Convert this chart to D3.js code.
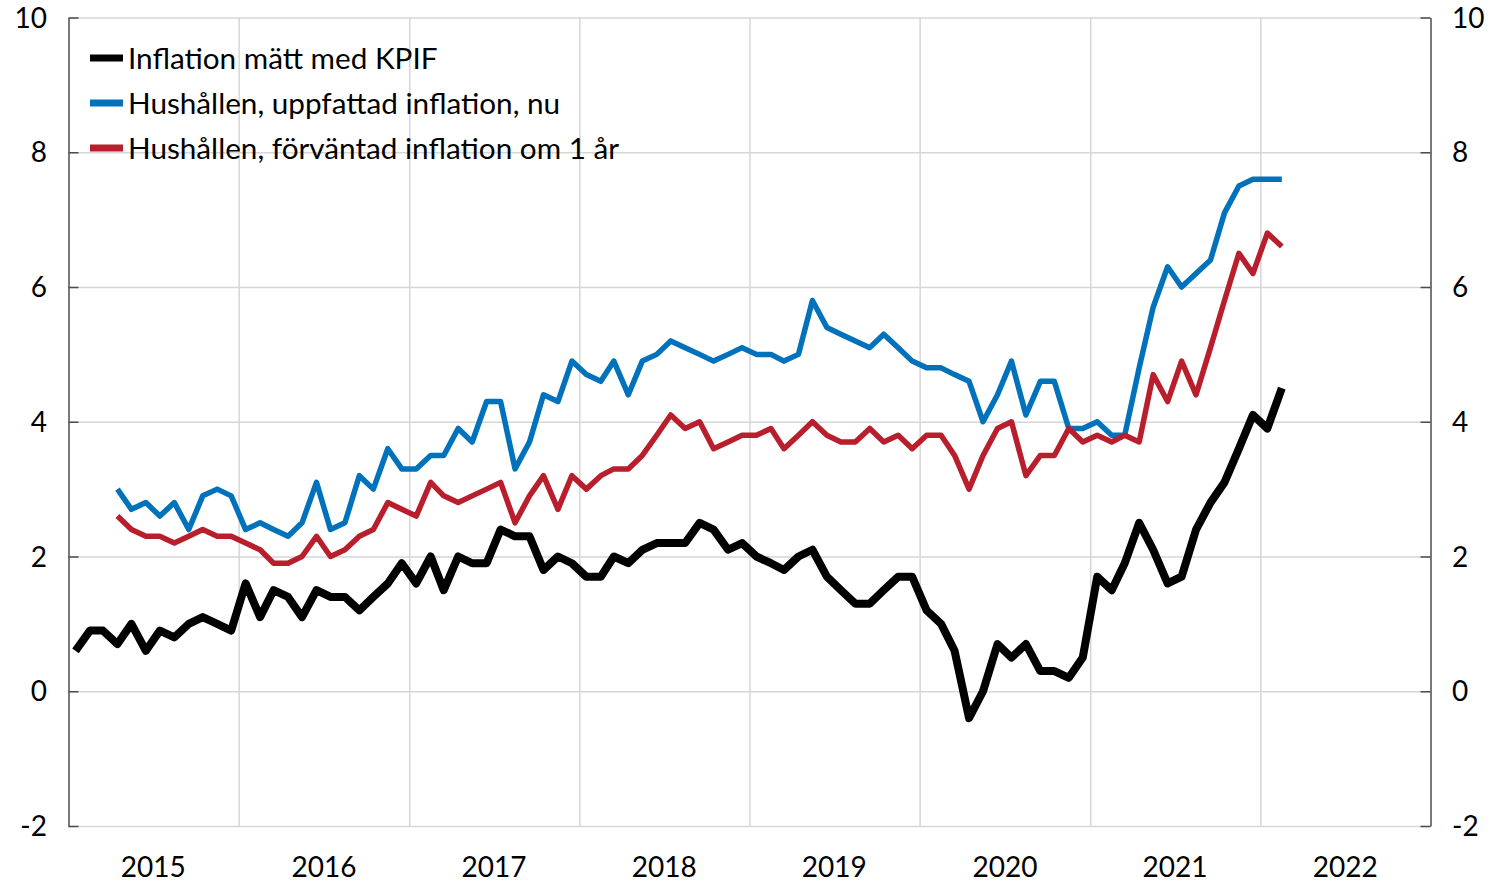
<!DOCTYPE html>
<html>
<head>
<meta charset="utf-8">
<script src="https://cdn.jsdelivr.net/npm/d3@7"></script>
<style>
  body { margin: 0; background: #fff; }
  svg text { font-family: Lato, "Open Sans", sans-serif; fill: #000; }
</style>
</head>
<body>
<svg id="chart" width="1491" height="882"></svg>
<script>
(function() {

// KPIF, årstakt, jan 2015 - feb 2022
const kpif = [
  0.6, 0.9, 0.9, 0.7, 1.0, 0.6, 0.9, 0.8, 1.0, 1.1, 1.0, 0.9,
  1.6, 1.1, 1.5, 1.4, 1.1, 1.5, 1.4, 1.4, 1.2, 1.4, 1.6, 1.9,
  1.6, 2.0, 1.5, 2.0, 1.9, 1.9, 2.4, 2.3, 2.3, 1.8, 2.0, 1.9,
  1.7, 1.7, 2.0, 1.9, 2.1, 2.2, 2.2, 2.2, 2.5, 2.4, 2.1, 2.2,
  2.0, 1.9, 1.8, 2.0, 2.1, 1.7, 1.5, 1.3, 1.3, 1.5, 1.7, 1.7,
  1.2, 1.0, 0.6, -0.4, 0.0, 0.7, 0.5, 0.7, 0.3, 0.3, 0.2, 0.5,
  1.7, 1.5, 1.9, 2.5, 2.1, 1.6, 1.7, 2.4, 2.8, 3.1, 3.6, 4.1,
  3.9, 4.5
];

// Hushållen, uppfattad inflation nu, apr 2015 - feb 2022
const uppfattad = [
  3.0, 2.7, 2.8, 2.6, 2.8, 2.4, 2.9, 3.0, 2.9,
  2.4, 2.5, 2.4, 2.3, 2.5, 3.1, 2.4, 2.5, 3.2, 3.0, 3.6, 3.3,
  3.3, 3.5, 3.5, 3.9, 3.7, 4.3, 4.3, 3.3, 3.7, 4.4, 4.3, 4.9,
  4.7, 4.6, 4.9, 4.4, 4.9, 5.0, 5.2, 5.1, 5.0, 4.9, 5.0, 5.1,
  5.0, 5.0, 4.9, 5.0, 5.8, 5.4, 5.3, 5.2, 5.1, 5.3, 5.1, 4.9,
  4.8, 4.8, 4.7, 4.6, 4.0, 4.4, 4.9, 4.1, 4.6, 4.6, 3.9, 3.9,
  4.0, 3.8, 3.8, 4.8, 5.7, 6.3, 6.0, 6.2, 6.4, 7.1, 7.5, 7.6,
  7.6, 7.6
];

// Hushållen, förväntad inflation om 1 år, apr 2015 - feb 2022
const forvantad = [
  2.6, 2.4, 2.3, 2.3, 2.2, 2.3, 2.4, 2.3, 2.3,
  2.2, 2.1, 1.9, 1.9, 2.0, 2.3, 2.0, 2.1, 2.3, 2.4, 2.8, 2.7,
  2.6, 3.1, 2.9, 2.8, 2.9, 3.0, 3.1, 2.5, 2.9, 3.2, 2.7, 3.2,
  3.0, 3.2, 3.3, 3.3, 3.5, 3.8, 4.1, 3.9, 4.0, 3.6, 3.7, 3.8,
  3.8, 3.9, 3.6, 3.8, 4.0, 3.8, 3.7, 3.7, 3.9, 3.7, 3.8, 3.6,
  3.8, 3.8, 3.5, 3.0, 3.5, 3.9, 4.0, 3.2, 3.5, 3.5, 3.9, 3.7,
  3.8, 3.7, 3.8, 3.7, 4.7, 4.3, 4.9, 4.4, 5.1, 5.8, 6.5, 6.2,
  6.8, 6.6
];

const years = [2015, 2016, 2017, 2018, 2019, 2020, 2021, 2022];
const yTicks = [-2, 0, 2, 4, 6, 8, 10];

const series = [
  { name: 'Inflation mätt med KPIF', start: new Date(2015, 0, 1), values: kpif, color: '#000000', width: 8 },
  { name: 'Hushållen, uppfattad inflation, nu', start: new Date(2015, 3, 1), values: uppfattad, color: '#0071BB', width: 5.5 },
  { name: 'Hushållen, förväntad inflation om 1 år', start: new Date(2015, 3, 1), values: forvantad, color: '#B91E2D', width: 5.5 }
];

const svg = d3.select('#chart');
const plot = { left: 68.5, right: 1430.5, top: 17.5, bottom: 826 };

const x = d3.scaleTime()
    .domain([new Date(2015, 0, 1), new Date(2023, 0, 1)])
    .range([plot.left, plot.right]);

const y = d3.scaleLinear()
    .domain([-2, 10])
    .range([plot.bottom, plot.top]);

// points sit in the middle of each month
function midMonth(start, i) {
    const m = d3.timeMonth.offset(start, i);
    return new Date(m.getFullYear(), m.getMonth(), 16);
}

// horizontal grid
svg.append('g')
    .attr('class', 'grid')
    .attr('transform', 'translate(' + plot.left + ',0)')
    .call(d3.axisRight(y).tickValues(yTicks).tickSize(plot.right - plot.left).tickFormat(''))
    .call(g => g.select('.domain').remove())
    .selectAll('line').attr('stroke', '#d6d6d6').attr('stroke-width', 1.5);

// vertical grid at year boundaries
svg.append('g')
    .attr('transform', 'translate(0,' + plot.top + ')')
    .call(d3.axisBottom(x).tickValues(years.slice(1).map(yr => new Date(yr, 0, 1)))
        .tickSize(plot.bottom - plot.top).tickFormat(''))
    .call(g => g.select('.domain').remove())
    .selectAll('line').attr('stroke', '#d6d6d6').attr('stroke-width', 1.5);

// left axis
const left = svg.append('g')
    .attr('transform', 'translate(' + plot.left + ',0)')
    .call(d3.axisRight(y).tickValues(yTicks).tickSize(10).tickSizeOuter(0).tickFormat(''));
left.select('.domain').attr('stroke', '#4d4d4d').attr('stroke-width', 1.5);
left.selectAll('line').attr('stroke', '#4d4d4d').attr('stroke-width', 1.5);

// right axis
const right = svg.append('g')
    .attr('transform', 'translate(' + plot.right + ',0)')
    .call(d3.axisLeft(y).tickValues(yTicks).tickSize(10).tickSizeOuter(0).tickFormat(''));
right.select('.domain').attr('stroke', '#4d4d4d').attr('stroke-width', 1.5);
right.selectAll('line').attr('stroke', '#4d4d4d').attr('stroke-width', 1.5);

// y tick labels on both sides
svg.append('g').selectAll('text')
    .data(yTicks).enter().append('text')
    .attr('x', 47)
    .attr('y', d => y(d))
    .attr('dy', '0.36em')
    .attr('text-anchor', 'end')
    .style('font-size', '28px')
    .text(d => d);

svg.append('g').selectAll('text')
    .data(yTicks).enter().append('text')
    .attr('x', 1452)
    .attr('y', d => y(d))
    .attr('dy', '0.36em')
    .attr('text-anchor', 'start')
    .style('font-size', '28px')
    .text(d => d);

// year labels centred in each year
svg.append('g').selectAll('text')
    .data(years).enter().append('text')
    .attr('x', d => x(new Date(d, 6, 2)))
    .attr('y', 877)
    .attr('text-anchor', 'middle')
    .style('font-size', '28px')
    .text(d => d);

// lines
const line = d3.line()
    .x(d => x(d.date))
    .y(d => y(d.value));

series.forEach(function(s) {
    const pts = s.values.map((v, i) => ({ date: midMonth(s.start, i), value: v }));
    svg.append('path')
        .datum(pts)
        .attr('fill', 'none')
        .attr('stroke', s.color)
        .attr('stroke-width', s.width)
        .attr('stroke-linejoin', 'round')
        .attr('d', line);
});

// legend
const legend = svg.append('g').attr('transform', 'translate(90,58)');
const rows = legend.selectAll('g')
    .data(series).enter().append('g')
    .attr('transform', (d, i) => 'translate(0,' + i * 45 + ')');

rows.append('line')
    .attr('x1', 0).attr('x2', 33)
    .attr('stroke', d => d.color)
    .attr('stroke-width', 7);

rows.append('text')
    .attr('x', 38)
    .attr('dy', '0.36em')
    .style('font-size', '29.7px')
    .text(d => d.name);

})();
</script>
</body>
</html>
